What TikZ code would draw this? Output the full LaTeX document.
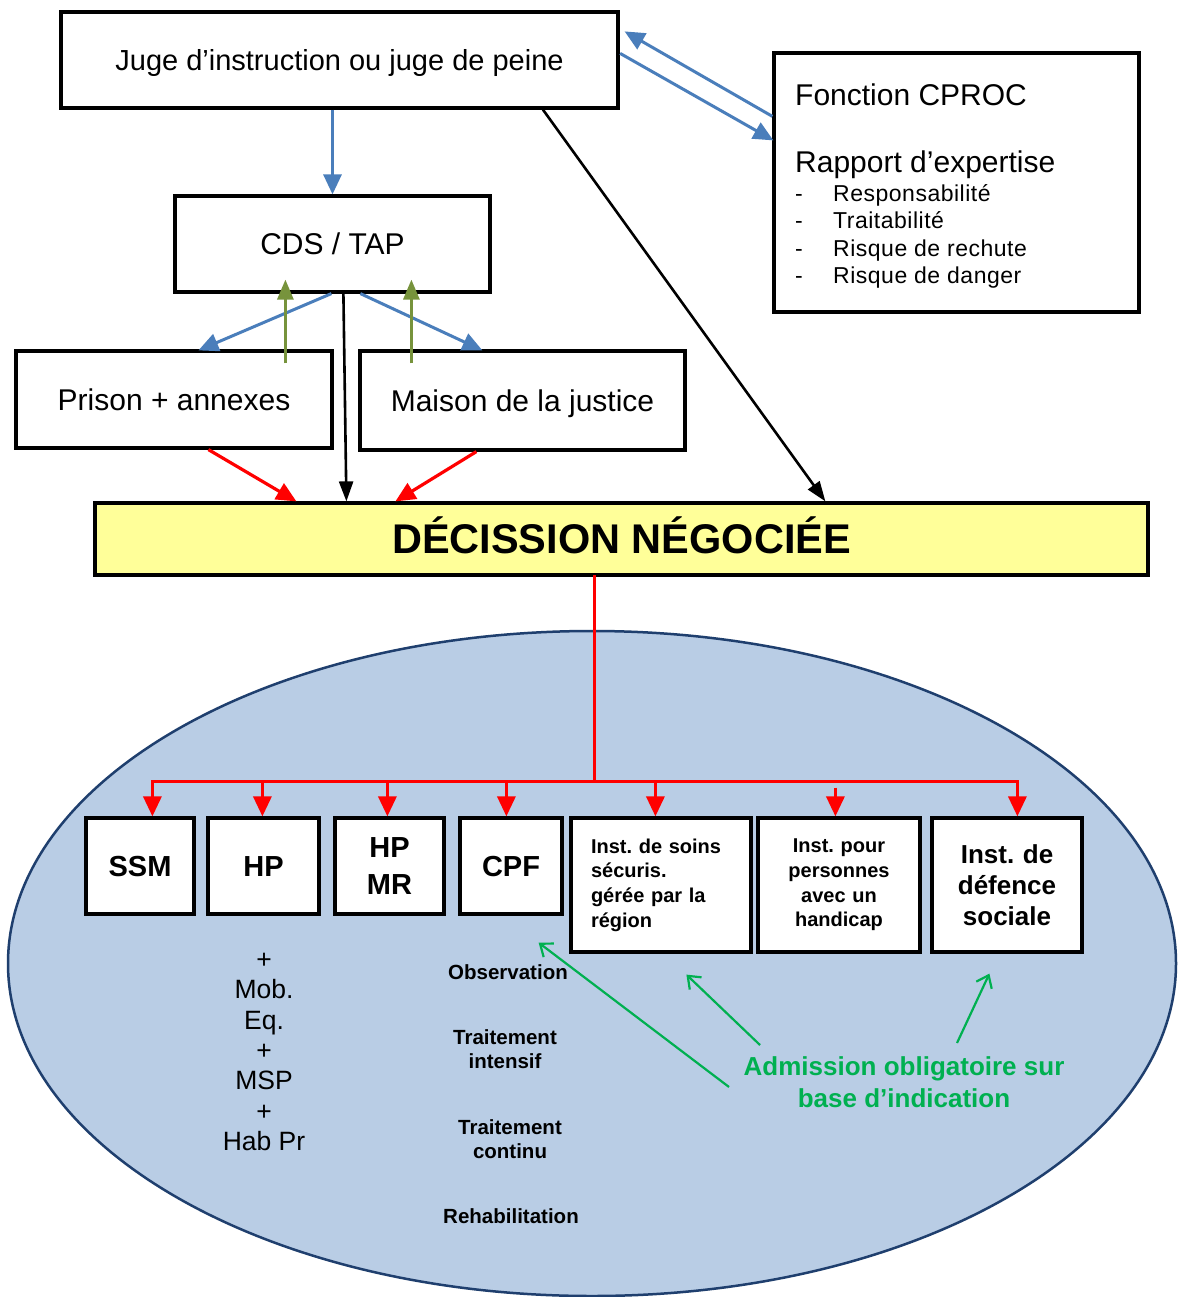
\documentclass[tikz,border=0pt]{standalone}
\usepackage{fontspec}
\setmainfont{Liberation Sans}
\usetikzlibrary{arrows.meta,calc}
\definecolor{bluearr}{HTML}{4A7EBB}
\definecolor{olivearr}{HTML}{77933C}
\definecolor{ellfill}{HTML}{B9CDE5}
\definecolor{elldraw}{HTML}{1F3F6E}
\definecolor{decfill}{HTML}{FFFF99}
\definecolor{admgreen}{HTML}{00B050}
\newcommand{\fsz}[2]{\fontsize{#1}{#2}\selectfont}
\frenchspacing
\begin{document}
\begin{tikzpicture}[x=1pt,y=-1pt,
  box/.style={draw=black,line width=3.2pt,fill=white,inner sep=0pt},
  capc/.style={text height=#1,text depth=0pt},
  bluearrow/.style={draw=bluearr,line width=3pt,-{Triangle[length=20pt,width=18pt]}},
  olivearrow/.style={draw=olivearr,line width=3pt,-{Triangle[length=20pt,width=16pt]}},
  blackarrow/.style={draw=black,line width=2.6pt,-{Triangle[length=20pt,width=14pt]}},
  redarrow/.style={draw=red,line width=3.2pt,-{Triangle[length=20pt,width=18pt]}},
  redline/.style={draw=red,line width=3.2pt,line cap=rect},
  greenarrow/.style={draw=admgreen,line width=2.2pt,-{Straight Barb[length=11pt,width=17pt]}},
  ellstyle/.style={draw=elldraw,line width=2.5pt,fill=ellfill},
  txt/.style={inner sep=0pt},
  listtxt/.style={txt,anchor=base west,font=\fsz{23}{27}\addfontfeature{LetterSpace=2.2}}
]
\useasboundingbox (0,0) rectangle (1177,1297);
\fill[white] (0,0) rectangle (1177,1297);

% ellipse
\draw[ellstyle] (592,963.5) ellipse [x radius=584,y radius=332.5];

% upper boxes
\node[box,minimum width=557,minimum height=96,font=\fsz{29}{34},capc=20.8pt] (juge) at (339.5,60) {Juge d’instruction ou juge de peine};
\node[box,minimum width=365,minimum height=259] (cproc) at (956.5,182.5) {};
\node[txt,anchor=base west,font=\fsz{30}{36}] (fc) at (795,106) {Fonction CPROC};
\node[txt,anchor=base west,font=\fsz{30}{36}] (ra) at (795,173) {Rapport d’expertise};
\node[listtxt] (d1) at (795,202) {-};
\node[listtxt] (i1) at (833,202) {Responsabilité};
\node[listtxt] (d2) at (795,229) {-};
\node[listtxt] (i2) at (833,229) {Traitabilité};
\node[listtxt] (d3) at (795,256) {-};
\node[listtxt] (i3) at (833,256) {Risque de rechute};
\node[listtxt] (d4) at (795,283) {-};
\node[listtxt] (i4) at (833,283) {Risque de danger};

\node[box,minimum width=315,minimum height=96,font=\fsz{30}{36},capc=21.5pt] (cds) at (332.5,244) {CDS / TAP};
\node[box,minimum width=316,minimum height=97,font=\fsz{30}{36},capc=21.5pt] (prison) at (174,399.5) {Prison + annexes};
\node[box,minimum width=325,minimum height=99,font=\fsz{30}{36},capc=21.5pt] (maison) at (522.5,400.5) {Maison de la justice};

\node[box,fill=decfill,minimum width=1053,minimum height=72,font=\fsz{41.5}{48}\bfseries,capc=29.7pt] (dec) at (621.5,539) {DÉCISSION NÉGOCIÉE};

% bottom boxes
\node[box,minimum width=108,minimum height=96,font=\fsz{29}{36}\bfseries,capc=20.8pt] (ssm) at (140,866) {SSM};
\node[box,minimum width=111,minimum height=96,font=\fsz{29}{36}\bfseries,capc=20.8pt] (hp) at (263.5,866) {HP};
\node[box,minimum width=109,minimum height=96,font=\fsz{29}{37}\bfseries,align=center] (hpmr) at (389.5,866) {HP\\MR};
\node[box,minimum width=102,minimum height=96,font=\fsz{29}{36}\bfseries,capc=20.8pt] (cpf) at (511,866) {CPF};
\node[box,minimum width=180,minimum height=134,font=\fsz{20}{24.7}\bfseries,align=left,text width=140] (soins) at (661,885) {Inst. de soins\\sécuris.\\gérée par la\\région};
\node[box,minimum width=162,minimum height=134,font=\fsz{20}{24.7}\bfseries,align=center,text width=150] (pour) at (839,885) {Inst. pour\\personnes\\avec un\\handicap};
\node[box,minimum width=150,minimum height=134,font=\fsz{26}{31}\bfseries,align=center,text width=140] (def) at (1007,885) {Inst. de\\défence\\sociale};

% texts in the ellipse
\node[txt,font=\fsz{26.5}{30.3},align=center] (extra) at (264,1052) {+\\Mob.\\Eq.\\+\\MSP\\+\\Hab Pr};
\node[txt,anchor=base,font=\fsz{20.5}{24}\bfseries] (obs) at (508,979) {Observation};
\node[txt,font=\fsz{20.5}{23.5}\bfseries,align=center] (tint) at (505,1049) {Traitement\\intensif};
\node[txt,font=\fsz{20.5}{24}\bfseries,align=center] (tcont) at (510,1139) {Traitement\\continu};
\node[txt,anchor=base,font=\fsz{20.5}{24}\bfseries] (rehab) at (511,1223) {Rehabilitation};
\node[txt,font=\fsz{26}{31.5}\bfseries,align=center,text=admgreen] (adm) at (904,1082) {Admission obligatoire sur\\base d’indication};

% upper connectors
\draw[bluearrow] (cds.north |- juge.south) -- (cds.north);
\draw[bluearrow] ($(cproc.north west)+(0,65)$) -- ($(juge.north east)+(5,21)$);
\draw[bluearrow] ($(juge.north east)+(0.5,43)$) -- ($(cproc.north west)+(1,89)$);
\draw[blackarrow] ($(juge.south west)+(483.5,0)$) -- ($(dec.north west)+(732,0)$);
\draw[bluearrow] ($(cds.south west)+(158,0)$) -- ($(prison.north west)+(184,1)$);
\draw[bluearrow] ($(cds.south west)+(187,0)$) -- ($(maison.north west)+(124,1)$);
\draw[olivearrow] ($(prison.north west)+(271,14)$) -- ($(cds.south west)+(112,-14)$);
\draw[olivearrow] ($(maison.north west)+(53,14)$) -- ($(cds.south west)+(238,-14)$);
\draw[blackarrow] ($(cds.south west)+(170,0)$) -- ($(dec.north west)+(253,0)$);
\draw[redarrow] ($(prison.south west)+(194,0)$) -- ($(dec.north west)+(203,0)$);
\draw[redarrow] ($(maison.south west)+(118,0)$) -- ($(dec.north west)+(302,0)$);

% red tree
\coordinate (hub) at ($(dec.south west)+(501,205)$);
\coordinate (t1) at ($(ssm.north west)+(68,0)$);
\coordinate (t2) at ($(hp.north west)+(56,0)$);
\coordinate (t3) at ($(hpmr.north west)+(54,0)$);
\coordinate (t4) at ($(cpf.north west)+(48,0)$);
\coordinate (t5) at ($(soins.north west)+(86,0)$);
\coordinate (t6) at ($(pour.north west)+(79,0)$);
\coordinate (t7) at ($(def.north west)+(87,0)$);
\draw[redline] ($(dec.south west)+(501,0)$) -- (hub);
\draw[redline] (t1 |- hub) -- (t7 |- hub);
\foreach \t in {t1,t2,t3,t4,t5,t7} \draw[redarrow] (\t |- hub) -- (\t);
\draw[redarrow] ($(t6 |- hub)+(0,6)$) -- (t6);

% green arrows
\draw[greenarrow] ($(adm.center)+(-175,5)$) -- ($(cpf.south east)+(-25,27)$);
\draw[greenarrow] ($(adm.center)+(-144,-37)$) -- ($(soins.south west)+(117,21)$);
\draw[greenarrow] ($(adm.center)+(53,-39)$) -- ($(def.south west)+(59,20)$);
\end{tikzpicture}
\end{document}
